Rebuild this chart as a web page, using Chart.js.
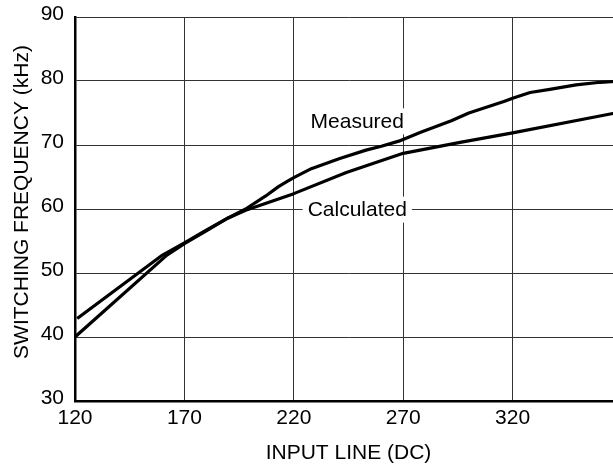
<!DOCTYPE html>
<html>
<head>
<meta charset="utf-8">
<script src="https://cdn.jsdelivr.net/npm/chart.js@4.4.1/dist/chart.umd.min.js"></script>
<style>
  html, body { margin: 0; padding: 0; background: #fff; overflow: hidden; }
  #wrap { width: 640px; height: 466px; }
</style>
</head>
<body>
<div id="wrap"><canvas id="freqChart" width="640" height="466"></canvas></div>
<script>
// values
const measuredX = [120, 162, 170, 180, 190, 198, 207, 213, 217, 220, 228, 241, 253, 260, 268, 278, 292, 300, 316, 320, 328, 337, 349, 360, 370];
const measuredY = [40.0, 52.8, 54.6, 56.6, 58.6, 60.0, 62.0, 63.5, 64.3, 64.9, 66.3, 67.9, 69.2, 69.8, 70.6, 72.0, 73.8, 75.0, 76.8, 77.3, 78.2, 78.7, 79.4, 79.8, 80.0];

const calculatedX = [121, 160, 170, 180, 190, 198, 210, 220, 244, 270, 296, 320, 370];
const calculatedY = [42.9, 52.8, 54.7, 56.7, 58.6, 59.8, 61.2, 62.4, 65.7, 68.7, 70.4, 71.9, 75.2];

const xTicks = [120, 170, 220, 270, 320];   // 370 falls off the right edge
const yTicks = [30, 40, 50, 60, 70, 80, 90];

const curveLabels = ['Measured', 'Calculated'];
const curveLabelX = [249, 249];
const curveLabelY = [73.7, 59.9];

const yTitle = 'SWITCHING FREQUENCY (kHz)';

const FONT = "'Liberation Sans', Arial, Helvetica, sans-serif";

function toPoints(xs, ys) {
  return xs.map((x, i) => ({ x, y: ys[i] }));
}

const curveLabelPlugin = {
  id: 'curveLabels',
  afterDraw(chart) {
    const { ctx, chartArea, scales: { x, y } } = chart;
    ctx.save();
    ctx.font = '21px ' + FONT;
    ctx.textAlign = 'center';
    ctx.textBaseline = 'middle';
    curveLabels.forEach((text, i) => {
      const px = x.getPixelForValue(curveLabelX[i]);
      const py = y.getPixelForValue(curveLabelY[i]);
      const w = ctx.measureText(text).width + 10;
      ctx.fillStyle = '#fff';
      ctx.fillRect(px - w / 2, py - 13, w, 26);
      ctx.fillStyle = '#000';
      ctx.fillText(text, px, py + 1);
    });

    // y axis title sits a little above the middle of the axis in the original
    ctx.translate(22, (chartArea.top + chartArea.bottom) / 2 - 7);
    ctx.rotate(-Math.PI / 2);
    ctx.fillText(yTitle, 0, 0);
    ctx.restore();
  }
};

const line = (data) => ({
  data,
  borderColor: '#000',
  borderWidth: 3.2,
  pointRadius: 0,
  tension: 0,
  fill: false,
  borderJoinStyle: 'round'
});

new Chart(document.getElementById('freqChart'), {
  type: 'line',
  data: {
    datasets: [
      { label: 'Measured', ...line(toPoints(measuredX, measuredY)) },
      { label: 'Calculated', ...line(toPoints(calculatedX, calculatedY)) }
    ]
  },
  options: {
    responsive: false,
    animation: false,
    layout: { padding: { top: 17, right: 18, left: 0, bottom: 0 } },
    plugins: { legend: { display: false }, tooltip: { enabled: false } },
    scales: {
      x: {
        type: 'linear',
        min: 120,
        max: 370,
        afterFit: (s) => { s.height = 65; s.paddingLeft = 0; s.paddingRight = 0; },
        afterBuildTicks: (s) => { s.ticks = xTicks.concat([370]).map(v => ({ value: v })); },
        ticks: {
          padding: 5,
          color: '#000',
          font: { family: FONT, size: 21 },
          callback: (v) => xTicks.includes(v) ? String(v) : ''
        },
        grid: { color: '#333', lineWidth: 1, drawTicks: false },
        border: { color: '#000', width: 2.5 },
        title: {
          display: true,
          text: 'INPUT LINE (DC)',
          color: '#000',
          font: { family: FONT, size: 21 },
          padding: { top: 2, bottom: 0 }
        }
      },
      y: {
        min: 30,
        max: 90,
        afterFit: (s) => { s.width = 75; s.paddingTop = 0; s.paddingBottom = 0; },
        afterBuildTicks: (s) => { s.ticks = yTicks.map(v => ({ value: v })); },
        ticks: {
          padding: 11,
          labelOffset: -3,
          color: '#000',
          font: { family: FONT, size: 21 }
        },
        grid: { color: '#333', lineWidth: 1, drawTicks: false },
        border: { color: '#000', width: 2.5 }
      }
    }
  },
  plugins: [curveLabelPlugin]
});
</script>
</body>
</html>
